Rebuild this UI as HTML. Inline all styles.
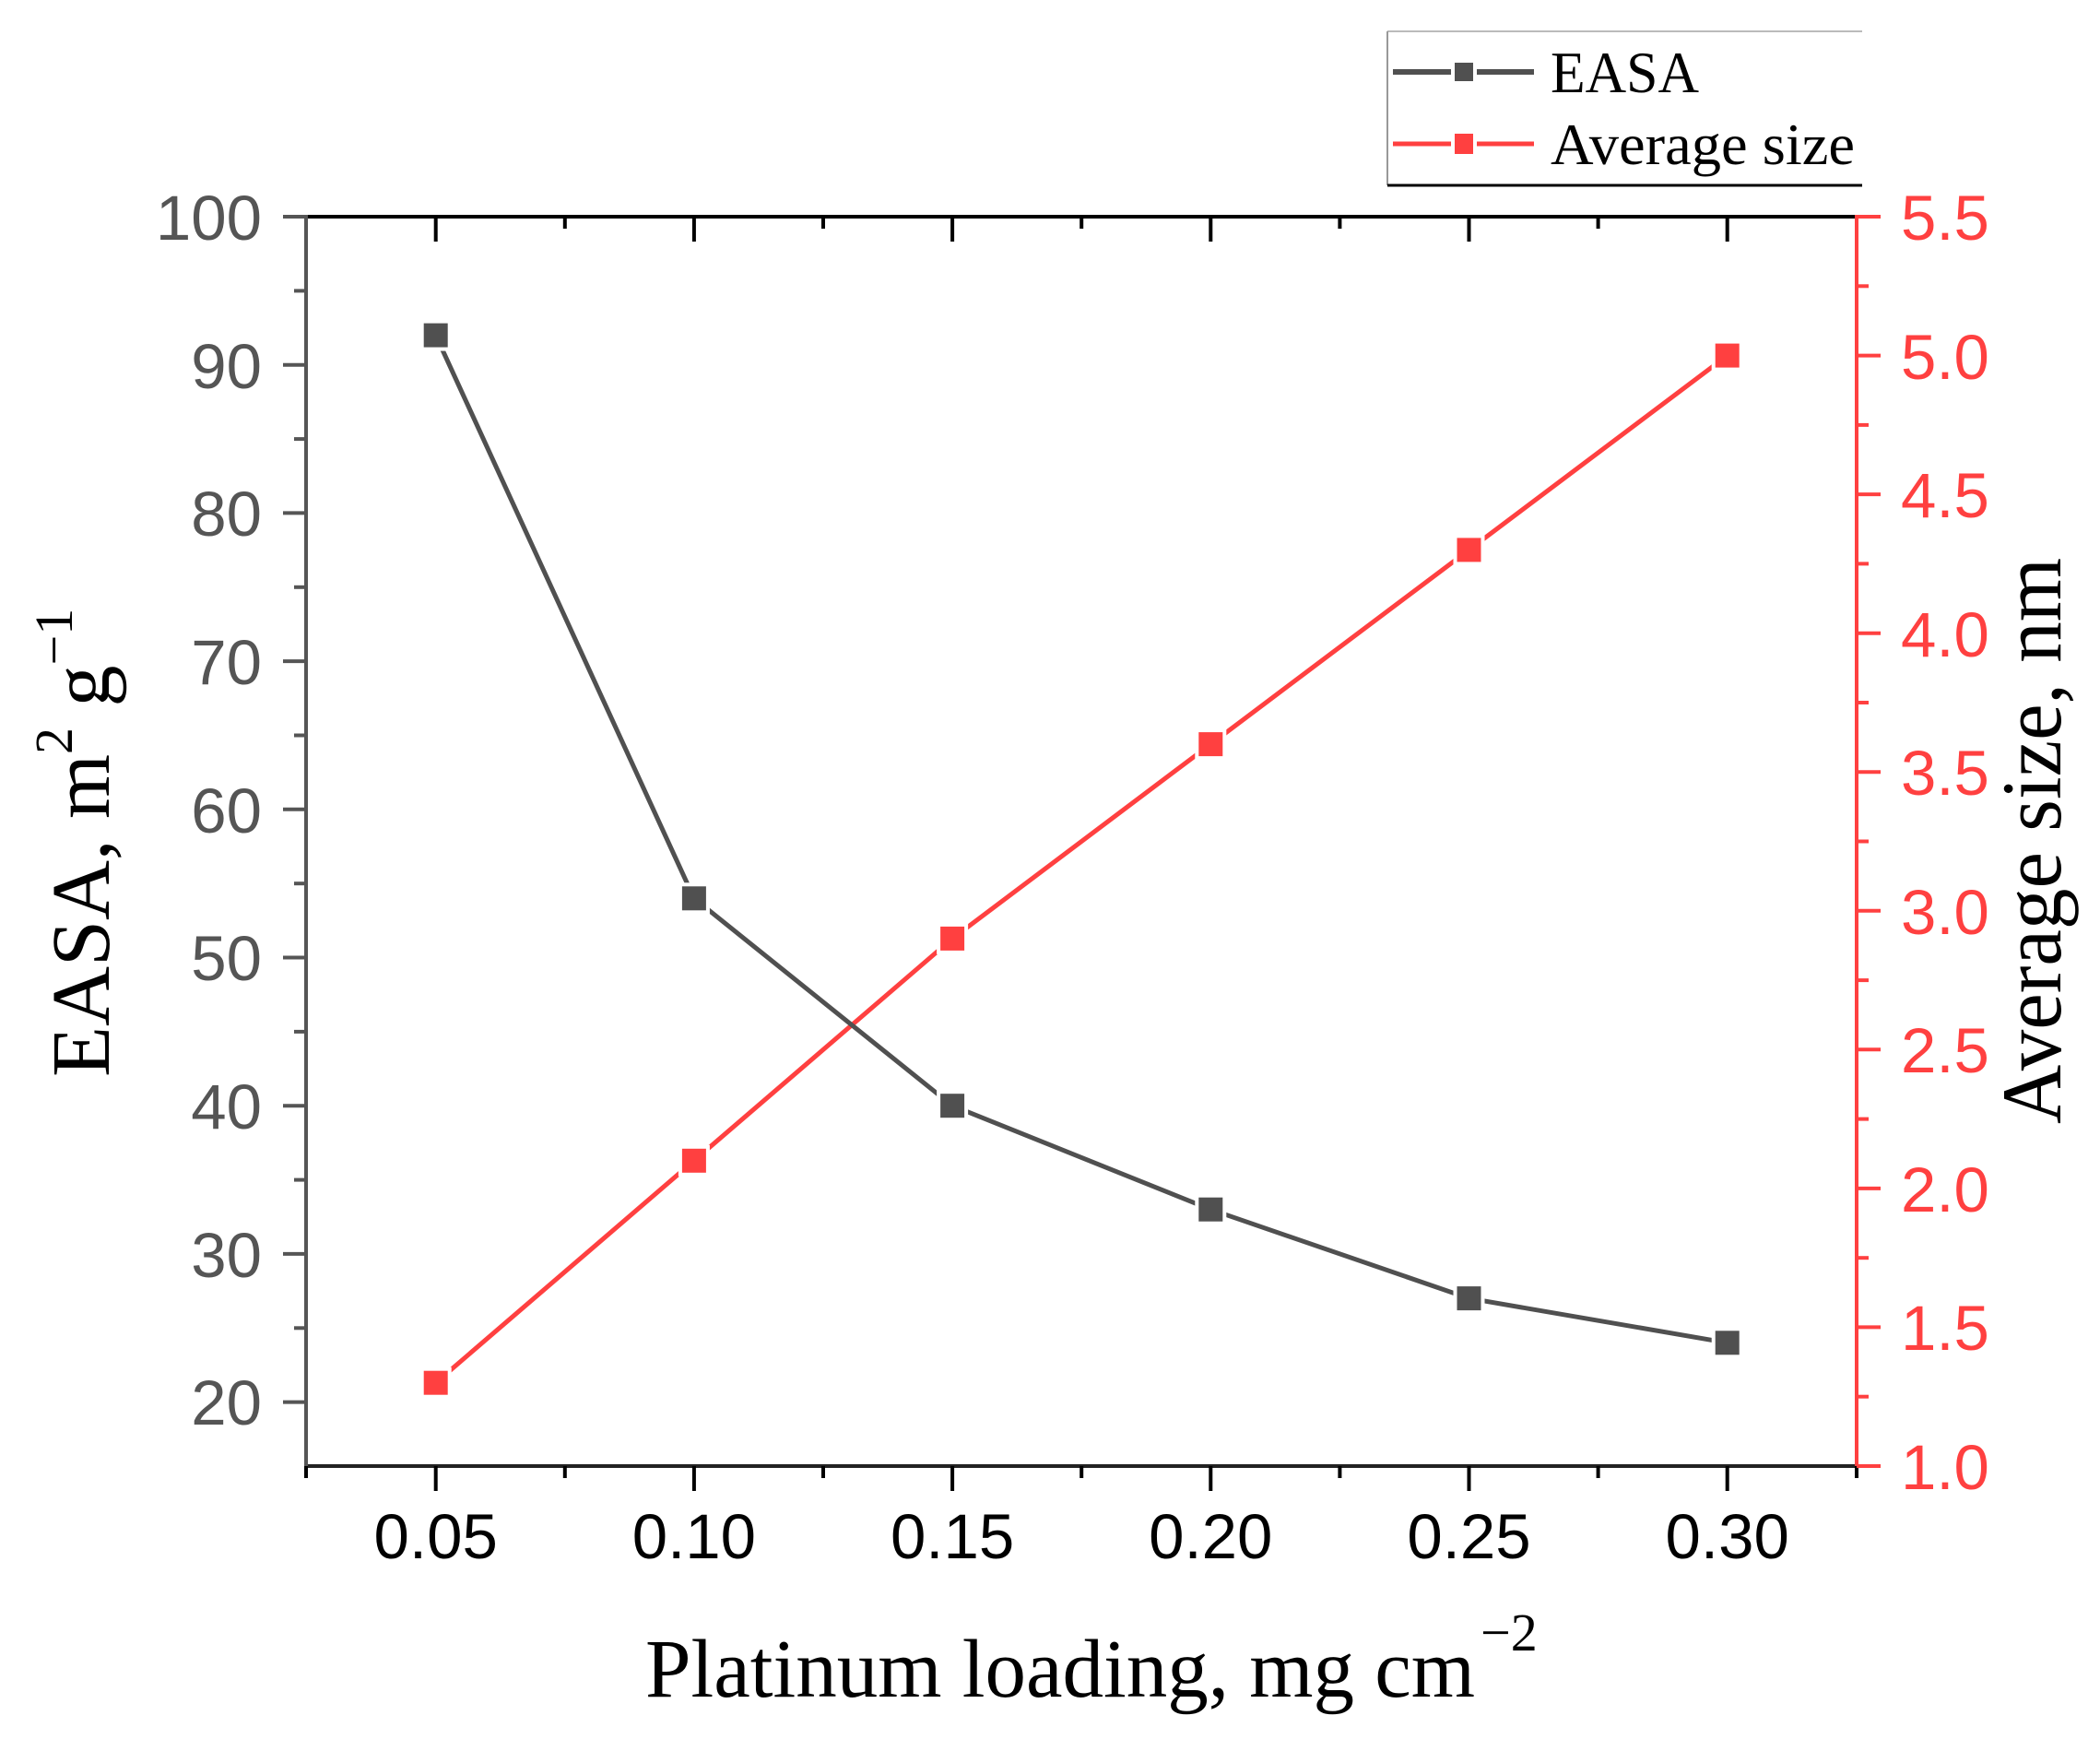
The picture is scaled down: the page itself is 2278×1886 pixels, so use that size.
<!DOCTYPE html>
<html><head><meta charset="utf-8"><style>
html,body{margin:0;padding:0;background:#fff;}
svg{display:block;}
</style></head><body>
<svg width="2278" height="1886" viewBox="0 0 2278 1886" xmlns="http://www.w3.org/2000/svg">
<rect width="2278" height="1886" fill="#fff"/>
<!-- Legend -->
<line x1="1505" y1="34" x2="2020" y2="34" stroke="#bbb" stroke-width="2"/>
<line x1="1505" y1="34" x2="1505" y2="201" stroke="#999" stroke-width="2"/>
<line x1="1505" y1="201" x2="2020" y2="201" stroke="#000" stroke-width="3"/>
<line x1="1511" y1="78" x2="1664" y2="78" stroke="#505050" stroke-width="6"/>
<rect x="1576" y="66" width="24" height="24" fill="#505050" stroke="#fff" stroke-width="4"/>
<line x1="1511" y1="156" x2="1664" y2="156" stroke="#ff4040" stroke-width="5"/>
<rect x="1576" y="143" width="24" height="26" fill="#ff4040" stroke="#fff" stroke-width="4"/>
<text x="1682" y="100" font-family="Liberation Serif, serif" font-size="64" fill="#000" textLength="161" lengthAdjust="spacingAndGlyphs">EASA</text>
<text x="1682" y="178" font-family="Liberation Serif, serif" font-size="64" fill="#000" textLength="330" lengthAdjust="spacingAndGlyphs">Average size</text>

<!-- Axes -->
<line x1="330" y1="235" x2="2014" y2="235" stroke="#000" stroke-width="4"/>
<line x1="330" y1="1590" x2="2014" y2="1590" stroke="#222" stroke-width="4"/>
<line x1="332" y1="233" x2="332" y2="1592" stroke="#555" stroke-width="4"/>
<line x1="2014" y1="233" x2="2014" y2="1592" stroke="#ff4040" stroke-width="4"/>
<g stroke="#000" stroke-width="4">
<line x1="472.7" y1="1590" x2="472.7" y2="1617"/><line x1="752.9" y1="1590" x2="752.9" y2="1617"/>
<line x1="1033.1" y1="1590" x2="1033.1" y2="1617"/><line x1="1313.3" y1="1590" x2="1313.3" y2="1617"/>
<line x1="1593.5" y1="1590" x2="1593.5" y2="1617"/><line x1="1873.7" y1="1590" x2="1873.7" y2="1617"/>
<line x1="332" y1="1590" x2="332" y2="1603"/><line x1="612.8" y1="1590" x2="612.8" y2="1603"/>
<line x1="893" y1="1590" x2="893" y2="1603"/><line x1="1173.2" y1="1590" x2="1173.2" y2="1603"/>
<line x1="1453.4" y1="1590" x2="1453.4" y2="1603"/><line x1="1733.6" y1="1590" x2="1733.6" y2="1603"/>
<line x1="2014" y1="1590" x2="2014" y2="1603"/>
<line x1="472.7" y1="235" x2="472.7" y2="262"/><line x1="752.9" y1="235" x2="752.9" y2="262"/>
<line x1="1033.1" y1="235" x2="1033.1" y2="262"/><line x1="1313.3" y1="235" x2="1313.3" y2="262"/>
<line x1="1593.5" y1="235" x2="1593.5" y2="262"/><line x1="1873.7" y1="235" x2="1873.7" y2="262"/>
<line x1="612.8" y1="235" x2="612.8" y2="248"/><line x1="893" y1="235" x2="893" y2="248"/>
<line x1="1173.2" y1="235" x2="1173.2" y2="248"/><line x1="1453.4" y1="235" x2="1453.4" y2="248"/>
<line x1="1733.6" y1="235" x2="1733.6" y2="248"/>
</g>
<g stroke="#555" stroke-width="4">
<line x1="307" y1="235" x2="332" y2="235"/><line x1="307" y1="395.7" x2="332" y2="395.7"/>
<line x1="307" y1="556.4" x2="332" y2="556.4"/><line x1="307" y1="717.1" x2="332" y2="717.1"/>
<line x1="307" y1="877.8" x2="332" y2="877.8"/><line x1="307" y1="1038.5" x2="332" y2="1038.5"/>
<line x1="307" y1="1199.2" x2="332" y2="1199.2"/><line x1="307" y1="1359.9" x2="332" y2="1359.9"/>
<line x1="307" y1="1520.6" x2="332" y2="1520.6"/>
<line x1="319" y1="315.4" x2="332" y2="315.4"/><line x1="319" y1="476.1" x2="332" y2="476.1"/>
<line x1="319" y1="636.8" x2="332" y2="636.8"/><line x1="319" y1="797.5" x2="332" y2="797.5"/>
<line x1="319" y1="958.2" x2="332" y2="958.2"/><line x1="319" y1="1118.9" x2="332" y2="1118.9"/>
<line x1="319" y1="1279.6" x2="332" y2="1279.6"/><line x1="319" y1="1440.3" x2="332" y2="1440.3"/>
</g>
<g stroke="#ff4040" stroke-width="4">
<line x1="2014" y1="1590" x2="2040" y2="1590"/><line x1="2014" y1="1439.4" x2="2040" y2="1439.4"/>
<line x1="2014" y1="1288.9" x2="2040" y2="1288.9"/><line x1="2014" y1="1138.3" x2="2040" y2="1138.3"/>
<line x1="2014" y1="987.8" x2="2040" y2="987.8"/><line x1="2014" y1="837.2" x2="2040" y2="837.2"/>
<line x1="2014" y1="686.7" x2="2040" y2="686.7"/><line x1="2014" y1="536.1" x2="2040" y2="536.1"/>
<line x1="2014" y1="385.6" x2="2040" y2="385.6"/><line x1="2014" y1="235" x2="2040" y2="235"/>
<line x1="2014" y1="1514.7" x2="2027" y2="1514.7"/><line x1="2014" y1="1364.2" x2="2027" y2="1364.2"/>
<line x1="2014" y1="1213.6" x2="2027" y2="1213.6"/><line x1="2014" y1="1063.1" x2="2027" y2="1063.1"/>
<line x1="2014" y1="912.5" x2="2027" y2="912.5"/><line x1="2014" y1="762" x2="2027" y2="762"/>
<line x1="2014" y1="611.4" x2="2027" y2="611.4"/><line x1="2014" y1="460.9" x2="2027" y2="460.9"/>
<line x1="2014" y1="310.3" x2="2027" y2="310.3"/>
</g>
<!-- Left tick labels -->
<g font-family="Liberation Sans, sans-serif" font-size="69" fill="#555" text-anchor="end">
<text x="284" y="260">100</text><text x="284" y="421">90</text><text x="284" y="581">80</text>
<text x="284" y="742">70</text><text x="284" y="903">60</text><text x="284" y="1063">50</text>
<text x="284" y="1224">40</text><text x="284" y="1385">30</text><text x="284" y="1545">20</text>
</g>
<!-- Right tick labels -->
<g font-family="Liberation Sans, sans-serif" font-size="69" fill="#ff4040">
<text x="2062" y="1615">1.0</text><text x="2062" y="1464">1.5</text><text x="2062" y="1314">2.0</text>
<text x="2062" y="1163">2.5</text><text x="2062" y="1013">3.0</text><text x="2062" y="862">3.5</text>
<text x="2062" y="712">4.0</text><text x="2062" y="561">4.5</text><text x="2062" y="411">5.0</text>
<text x="2062" y="260">5.5</text>
</g>
<!-- X tick labels -->
<g font-family="Liberation Sans, sans-serif" font-size="69" fill="#000" text-anchor="middle">
<text x="472.7" y="1690">0.05</text><text x="752.9" y="1690">0.10</text><text x="1033.1" y="1690">0.15</text>
<text x="1313.3" y="1690">0.20</text><text x="1593.5" y="1690">0.25</text><text x="1873.7" y="1690">0.30</text>
</g>
<!-- Axis titles -->
<text x="700" y="1840" font-family="Liberation Serif, serif" font-size="90" fill="#000" textLength="900" lengthAdjust="spacingAndGlyphs">Platinum loading, mg cm</text>
<text x="1606" y="1790" font-family="Liberation Serif, serif" font-size="58" fill="#000">−2</text>
<g transform="translate(118,1168) rotate(-90)">
<text x="0" y="0" font-family="Liberation Serif, serif" font-size="90" fill="#000">EASA, m<tspan dy="-40" font-size="58">2</tspan><tspan dy="40"> g</tspan><tspan dy="-40" font-size="58">−1</tspan></text>
</g>
<g transform="translate(2235,1219) rotate(-90)">
<text x="0" y="0" font-family="Liberation Serif, serif" font-size="92" fill="#000" textLength="614" lengthAdjust="spacingAndGlyphs">Average size, nm</text>
</g>
<!-- Series -->
<polyline points="472.7,1499.7 752.9,1258.8 1033.1,1017.9 1313.3,807.1 1593.5,596.4 1873.7,385.6" fill="none" stroke="#ff4040" stroke-width="5"/>
<polyline points="472.7,363.6 752.9,974.3 1033.1,1199.2 1313.3,1311.7 1593.5,1408.1 1873.7,1456.3" fill="none" stroke="#505050" stroke-width="5"/>
<g fill="#505050" stroke="#fff" stroke-width="4">
<rect x="457.7" y="348.6" width="30" height="30"/><rect x="737.9" y="959.3" width="30" height="30"/>
<rect x="1018.1" y="1184.2" width="30" height="30"/><rect x="1298.3" y="1296.7" width="30" height="30"/>
<rect x="1578.5" y="1393.1" width="30" height="30"/><rect x="1858.7" y="1441.3" width="30" height="30"/>
</g>
<g fill="#ff4040" stroke="#fff" stroke-width="4">
<rect x="457.7" y="1484.7" width="30" height="30"/><rect x="737.9" y="1243.8" width="30" height="30"/>
<rect x="1018.1" y="1002.9" width="30" height="30"/><rect x="1298.3" y="792.1" width="30" height="30"/>
<rect x="1578.5" y="581.4" width="30" height="30"/><rect x="1858.7" y="370.6" width="30" height="30"/>
</g>
</svg>
</body></html>
